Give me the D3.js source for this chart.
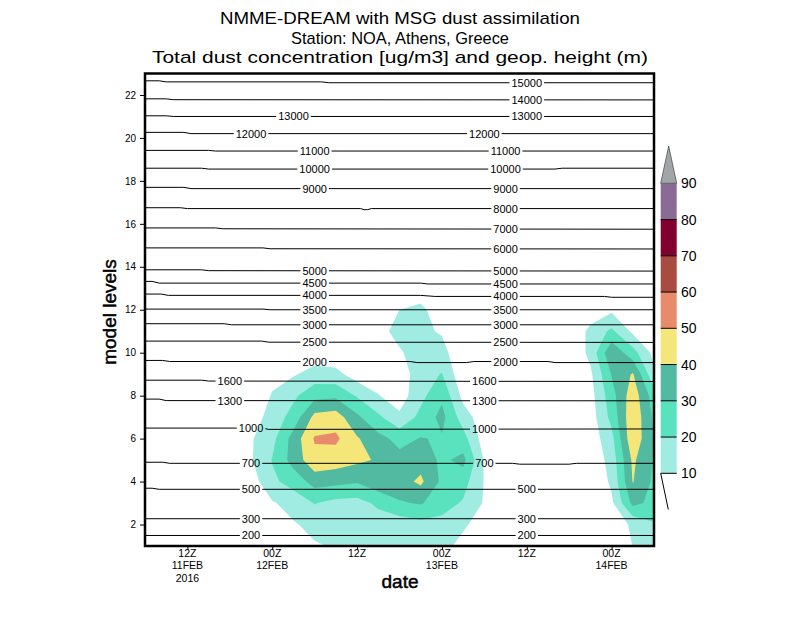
<!DOCTYPE html>
<html>
<head>
<meta charset="utf-8">
<script src="https://cdn.jsdelivr.net/npm/d3@7"></script>
<style>
body { margin: 0; background: #fff; }
text { font-family: "Liberation Sans", Arial, sans-serif; fill: #000; }
</style>
</head>
<body>
<svg id="chart" width="800" height="618"></svg>
<script>
// time axis: hours after 06Z 11FEB2016, 3-hourly model output
var xTickHours = [6, 18, 30, 42, 54, 66];
var xTickLabels = [["12Z", "11FEB", "2016"], ["00Z", "12FEB"], ["12Z"], ["00Z", "13FEB"], ["12Z"], ["00Z", "14FEB"]];
var yTickLevels = [2, 4, 6, 8, 10, 12, 14, 16, 18, 20, 22];

// colour scale of dust concentration (ug/m3)
var bandStops = [10, 20, 30, 40, 50, 60, 70, 80, 90];
var bandColors = ["#a0ece2", "#5ae2be", "#52baa0", "#f5e67a", "#e88b6a", "#aa4b41", "#820030", "#8c6a96", "#a0a6a6"];

// dust concentration, one row per model level (1..23), one column per 3 h step (0..72 h)
var dust = [
  [0,0,0,0,0,0,0,4,9,11,12,13,12,13,12,8,0,0,0,0,0,0,0,10.2,13],
  [0,0,0,0,0,0,3,9,13,14,15,15,14,17,17,11,7,0,0,0,0,0,3,12,19],
  [0,0,0,0,0,0,9,14,20.5,17,16.5,22,29,31,24,19,9,0,0,0,0,0,8,33,27],
  [0,0,0,0,0,5,18,24,34,33,31,37,36,42,28,24,9.5,0,0,0,0,0,12,40.5,28],
  [0,0,0,0,0,9,20.5,34,47,45,42,39,33,36,28,33,9,0,0,0,0,2,14,42,29],
  [0,0,0,0,0,9,17,34,51,52,41,33,27,30.5,29,24,5,0,0,0,0,4,17,48,29],
  [0,0,0,0,0,5,14,24,43,45,32,22,12,23,33,15,4,0,0,0,0,5,23,48,28],
  [0,0,0,0,0,0,11,18,27,28,19,10.5,5,17,28,7,2,0,0,0,0,6,26,46,25],
  [0,0,0,0,0,0,6,9,14,13,5,4,4,16,20.5,2,0,0,0,0,0,8,30.5,41,12],
  [0,0,0,0,0,0,0,2,4,3,0,3,9,14,13.5,2,0,0,0,0,0,13,38,24,7],
  [0,0,0,0,0,0,0,0,0,0,0,7,13,12,9,0,0,0,0,0,0,13,22,8,4],
  [0,0,0,0,0,0,0,0,0,0,0,5,10,12,5,0,0,0,0,0,0,3,8,0,0],
  [0,0,0,0,0,0,0,0,0,0,0,0,4,5,0,0,0,0,0,0,0,0,0,0,0],
  [0,0,0,0,0,0,0,0,0,0,0,0,0,0,0,0,0,0,0,0,0,0,0,0,0],
  [0,0,0,0,0,0,0,0,0,0,0,0,0,0,0,0,0,0,0,0,0,0,0,0,0],
  [0,0,0,0,0,0,0,0,0,0,0,0,0,0,0,0,0,0,0,0,0,0,0,0,0],
  [0,0,0,0,0,0,0,0,0,0,0,0,0,0,0,0,0,0,0,0,0,0,0,0,0],
  [0,0,0,0,0,0,0,0,0,0,0,0,0,0,0,0,0,0,0,0,0,0,0,0,0],
  [0,0,0,0,0,0,0,0,0,0,0,0,0,0,0,0,0,0,0,0,0,0,0,0,0],
  [0,0,0,0,0,0,0,0,0,0,0,0,0,0,0,0,0,0,0,0,0,0,0,0,0],
  [0,0,0,0,0,0,0,0,0,0,0,0,0,0,0,0,0,0,0,0,0,0,0,0,0],
  [0,0,0,0,0,0,0,0,0,0,0,0,0,0,0,0,0,0,0,0,0,0,0,0,0],
  [0,0,0,0,0,0,0,0,0,0,0,0,0,0,0,0,0,0,0,0,0,0,0,0,0]
];

// geopotential height contours (m): [hour, model level] points along each line
var hgtValues = [200, 300, 500, 700, 1000, 1300, 1600, 2000, 2500, 3000, 3500, 4000,
  4500, 5000, 6000, 7000, 8000, 9000, 10000, 11000, 12000, 13000, 14000, 15000];
var hgtPaths = [
  [[0, 1.49], [72, 1.49]],
  [[0, 2.27], [72, 2.27]],
  [[0, 3.69], [1, 3.69], [2, 3.64], [72, 3.64]],
  [[0, 4.90], [2.5, 4.90], [3.5, 4.85], [52, 4.85], [53, 4.81], [60, 4.81], [61, 4.85], [72, 4.85]],
  [[0, 6.49], [16.5, 6.49], [17.5, 6.43], [72, 6.45]],
  [[0, 7.84], [2, 7.84], [3, 7.77], [72, 7.76]],
  [[0, 8.72], [8, 8.72], [9, 8.68], [72, 8.66]],
  [[0, 9.64], [2.5, 9.64], [3.5, 9.59], [37.5, 9.59], [38.5, 9.54], [45.5, 9.54], [46.5, 9.59], [57, 9.59], [58, 9.54], [72, 9.54]],
  [[0, 10.54], [16.5, 10.54], [17.5, 10.49], [72, 10.48]],
  [[0, 11.35], [11.2, 11.35], [12.2, 11.30], [72, 11.30]],
  [[0, 12.03], [16.7, 12.03], [17.7, 12.00], [72, 12.00]],
  [[0, 12.73], [2.3, 12.73], [3.3, 12.67], [39, 12.67], [41, 12.62], [65, 12.62], [66, 12.58], [72, 12.58]],
  [[0, 13.32], [1, 13.32], [2, 13.24], [39, 13.24], [40, 13.20], [72, 13.20]],
  [[0, 13.86], [8, 13.86], [9, 13.82], [72, 13.80]],
  [[0, 14.88], [16.7, 14.88], [17.7, 14.84], [72, 14.83]],
  [[0, 15.81], [10, 15.81], [11, 15.77], [72, 15.75]],
  [[0, 16.75], [5, 16.75], [6, 16.71], [30.5, 16.71], [31, 16.66], [31.5, 16.66], [32, 16.71], [72, 16.71]],
  [[0, 17.70], [5.5, 17.70], [6.5, 17.64], [72, 17.64]],
  [[0, 18.59], [8, 18.59], [9, 18.55], [58, 18.55], [59, 18.59], [72, 18.59]],
  [[0, 19.42], [9, 19.42], [10, 19.39], [72, 19.39]],
  [[0, 20.26], [5.5, 20.26], [6.5, 20.20], [72, 20.20]],
  [[0, 21.03], [3, 21.03], [4, 21.00], [72, 21.00]],
  [[0, 21.82], [3, 21.82], [4, 21.78], [72, 21.77]],
  [[0, 22.66], [2, 22.66], [3, 22.61], [25, 22.61], [26, 22.57], [72, 22.57]]
];
// hours where each line carries its label (left part, right part)
var hgtLabelHours = [
  [15, 54], [15, 54], [15, 54], [15, 48], [15, 48], [12, 48], [12, 48], [24, 51],
  [24, 51], [24, 51], [24, 51], [24, 51], [24, 51], [24, 51], [null, 51], [null, 51],
  [null, 51], [24, 51], [24, 51], [24, 51], [15, 48], [21, 54], [null, 54], [null, 54]
];

var svg = d3.select("#chart");
var x = d3.scaleLinear().domain([0, 72]).range([145, 654]);
var y = d3.scaleLinear().domain([1, 23]).range([546, 73.5]);

var defs = svg.append("defs");
defs.append("clipPath").attr("id", "plotclip")
  .append("rect")
  .attr("x", x(0)).attr("y", y(23))
  .attr("width", x(72) - x(0)).attr("height", y(1) - y(23));

// filled dust contours
var nx = dust[0].length, ny = dust.length;
var contours = d3.contours().size([nx, ny]).thresholds(bandStops)(dust.flat());
var proj = d3.geoTransform({
  point: function(gx, gy) { this.stream.point(x((gx - 0.5) * 3), y(gy + 0.5)); }
});
var geo = d3.geoPath(proj);

svg.append("g").attr("clip-path", "url(#plotclip)")
  .selectAll("path")
  .data(contours)
  .enter().append("path")
  .attr("d", geo)
  .attr("fill", function(d, i) { return bandColors[i]; })
  .attr("stroke", "none");

// height contour lines with labels
function levelAt(pts, t) {
  for (var i = 0; i < pts.length - 1; i++) {
    if (t >= pts[i][0] && t <= pts[i + 1][0]) {
      var f = (t - pts[i][0]) / (pts[i + 1][0] - pts[i][0]);
      return pts[i][1] + f * (pts[i + 1][1] - pts[i][1]);
    }
  }
  return pts[pts.length - 1][1];
}

var mask = defs.append("mask").attr("id", "labmask")
  .attr("maskUnits", "userSpaceOnUse")
  .attr("x", 0).attr("y", 0).attr("width", 800).attr("height", 618);
mask.append("rect").attr("x", 0).attr("y", 0).attr("width", 800).attr("height", 618).attr("fill", "#fff");

var line = d3.line().x(function(d) { return x(d[0]); }).y(function(d) { return y(d[1]); });

svg.append("g").attr("mask", "url(#labmask)")
  .selectAll("path")
  .data(hgtPaths)
  .enter().append("path")
  .attr("d", line)
  .attr("fill", "none")
  .attr("stroke", "#000")
  .attr("stroke-width", 1);

var labG = svg.append("g");
hgtValues.forEach(function(v, i) {
  hgtLabelHours[i].forEach(function(h) {
    if (h === null) return;
    var t = labG.append("text")
      .attr("x", x(h))
      .attr("y", y(levelAt(hgtPaths[i], h)) + 4)
      .attr("text-anchor", "middle")
      .attr("font-size", "11px")
      .text(v);
    var b = t.node().getBBox();
    mask.append("rect")
      .attr("x", b.x - 2).attr("y", b.y)
      .attr("width", b.width + 4).attr("height", b.height)
      .attr("fill", "#000");
  });
});

// axes
var yAxis = svg.append("g")
  .attr("transform", "translate(" + x(0) + ",0)")
  .style("color", "#000")
  .call(d3.axisLeft(y).tickValues(yTickLevels).tickSize(5).tickPadding(4));
yAxis.select(".domain").remove();
yAxis.selectAll("text").attr("font-size", "10px").attr("font-family", "Liberation Sans, Arial, sans-serif");

var xAxis = svg.append("g")
  .attr("transform", "translate(0," + y(1) + ")")
  .style("color", "#000")
  .call(d3.axisBottom(x).tickValues(xTickHours).tickSize(4).tickFormat(""));
xAxis.select(".domain").remove();

var xLabelY = [557, 569, 581.5];
xTickHours.forEach(function(h, i) {
  xTickLabels[i].forEach(function(s, j) {
    svg.append("text")
      .attr("x", x(h))
      .attr("y", xLabelY[j])
      .attr("text-anchor", "middle")
      .attr("font-size", "10.5px")
      .text(s);
  });
});

// frame
svg.append("rect")
  .attr("x", x(0)).attr("y", y(23))
  .attr("width", x(72) - x(0)).attr("height", y(1) - y(23))
  .attr("fill", "none").attr("stroke", "#000").attr("stroke-width", 2.5);

// colour bar
var cbY = d3.scaleLinear().domain([10, 90]).range([473.3, 183.3]);
var cbX0 = 660.7, cbX1 = 676.7;
var cb = svg.append("g");
cb.selectAll("rect")
  .data(bandStops.slice(0, -1))
  .enter().append("rect")
  .attr("x", cbX0)
  .attr("y", function(d) { return cbY(d + 10); })
  .attr("width", cbX1 - cbX0)
  .attr("height", function(d) { return cbY(d) - cbY(d + 10); })
  .attr("fill", function(d, i) { return bandColors[i]; });
cb.append("path")
  .attr("d", "M" + cbX0 + "," + cbY(90) + "L" + ((cbX0 + cbX1) / 2) + ",146L" + cbX1 + "," + cbY(90) + "Z")
  .attr("fill", bandColors[8])
  .attr("stroke", "#444").attr("stroke-width", 0.7);
cb.selectAll("line.sep")
  .data(bandStops.slice(0, -1))
  .enter().append("line")
  .attr("x1", cbX0).attr("x2", cbX1)
  .attr("y1", function(d) { return cbY(d); })
  .attr("y2", function(d) { return cbY(d); })
  .attr("stroke", "#000").attr("stroke-width", 1);
cb.append("line")
  .attr("x1", cbX0).attr("y1", cbY(10))
  .attr("x2", 668.3).attr("y2", 509.5)
  .attr("stroke", "#000").attr("stroke-width", 1);
cb.selectAll("text")
  .data(bandStops)
  .enter().append("text")
  .attr("x", 681)
  .attr("y", function(d) { return cbY(d) + 5; })
  .attr("font-size", "14px")
  .text(function(d) { return d; });

// titles
var titles = ["NMME-DREAM with MSG dust assimilation", "Station: NOA, Athens, Greece",
  "Total dust concentration [ug/m3] and geop. height (m)"];
var titleY = [24, 44, 63];
var titleW = [360, 218, 496];
titles.forEach(function(s, i) {
  svg.append("text")
    .attr("x", 400).attr("y", titleY[i])
    .attr("text-anchor", "middle")
    .attr("font-family", "DejaVu Sans, sans-serif")
    .attr("font-size", "17px")
    .attr("textLength", titleW[i])
    .attr("lengthAdjust", "spacingAndGlyphs")
    .text(s);
});

svg.append("text")
  .attr("transform", "translate(115.5,312) rotate(-90)")
  .attr("text-anchor", "middle")
  .attr("font-size", "19px")
  .attr("stroke", "#000").attr("stroke-width", 0.5)
  .text("model levels");

svg.append("text")
  .attr("x", 400).attr("y", 588)
  .attr("text-anchor", "middle")
  .attr("font-size", "19px")
  .attr("stroke", "#000").attr("stroke-width", 0.5)
  .text("date");
</script>
</body>
</html>
